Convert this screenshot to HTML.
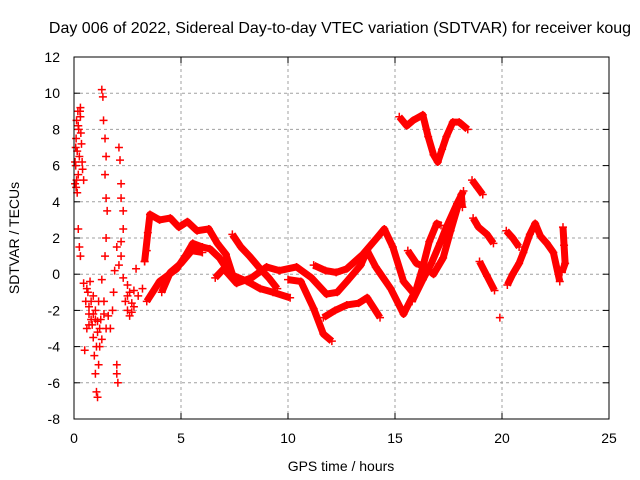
<!DOCTYPE html>
<html><head><meta charset="utf-8"><style>
body{margin:0;background:#fff}
svg{display:block;font-family:"Liberation Sans",sans-serif}
</style></head><body>
<svg id="chart" width="640" height="480" viewBox="0 0 640 480">
<rect width="640" height="480" fill="#fff"/>
<text x="340" y="33" font-size="16" text-anchor="middle">Day 006 of 2022, Sidereal Day-to-day VTEC variation (SDTVAR) for receiver koug</text>
<text transform="translate(19,238) rotate(-90)" font-size="14" text-anchor="middle">SDTVAR / TECUs</text>
<text x="341" y="471" font-size="14" text-anchor="middle">GPS time / hours</text>
<g id="grid"></g>
<g id="marks"></g>
<rect x="74" y="57" width="535" height="362" fill="none" stroke="#000" stroke-width="1"/>
</svg>
<script>
const xTicks=[0,5,10,15,20,25];
const yTicks=[-8,-6,-4,-2,0,2,4,6,8,10,12];
const earlyScatter=[[0.05,5],[0.08,7],[0.1,4.8],[0.12,8.5],[0.15,4.5],[0.18,9],[0.2,5.5],[0.22,8],[0.25,6.5],[0.28,9],[0.3,8.7],[0.32,7.8],[0.35,7.2],[0.38,6.2],[0.4,5.8],[0.45,5.2],[0.2,2.5],[0.25,1.5],[0.3,1],[0.08,6],[0.15,6.8],[0.1,7.5],[0.2,8.2],[0.3,9.2],[0.05,6.2],[0.12,5.2],[0.45,-0.5],[0.55,-1.5],[0.6,-3.0],[0.5,-4.2],[0.65,-1],[0.7,-2.2],[0.75,-0.4],[0.8,-1.5],[0.85,-2.8],[0.9,-3.5],[0.95,-4.5],[1.0,-5.5],[1.05,-6.5],[1.1,-6.8],[1.0,-2.5],[1.1,-3.2],[1.15,-1.5],[1.2,-4],[1.25,-2.5],[1.3,-0.3],[0.6,-0.8],[0.7,-1.8],[0.8,-2.5],[0.9,-1.2],[1.0,-2.0],[1.1,-2.6],[1.2,-3.0],[1.3,-3.6],[1.4,-2.2],[0.7,-2.8],[0.9,-2.2],[1.05,-4.0],[1.15,-5.0],[1.3,10.2],[1.35,9.8],[1.38,8.5],[1.45,7.5],[1.5,6.5],[1.45,5.5],[1.5,4.2],[1.55,3.5],[1.5,2],[1.45,1.0],[1.4,-1.5],[1.5,-3.0],[1.6,-2.3],[1.7,-3],[1.8,-2],[1.85,-1],[2.0,-5.5],[2.05,-6.0],[2.0,-5],[2.1,7],[2.15,6.3],[2.2,5],[2.2,4.2],[2.3,3.5],[2.3,2.5],[2.2,1.8],[2.2,1.0],[2.0,1.5],[2.1,0.5],[1.9,0.2],[2.3,-0.2],[2.4,-1.5],[2.5,-2.0],[2.6,-2.3],[2.7,-1.6],[2.8,-1.8],[3.0,-1.2],[3.2,-0.8],[2.5,-1.2],[2.9,0.3],[3.3,0.7],[3.4,1.3],[2.5,-0.6],[2.6,-1.0],[2.7,-2.1],[2.8,-0.9]];
const trackA=[[3.3,0.7],[3.45,2.3],[3.55,3.3],[4.0,3.0],[4.5,3.1],[4.9,2.6],[5.3,2.9],[5.75,2.4],[6.3,2.5],[6.7,1.7],[7.1,1.1],[7.4,0]];
const trackB=[[3.4,-1.5],[4.0,-0.4],[4.8,0.3],[5.2,1.0],[5.55,1.7],[6.0,1.5],[6.35,1.4],[6.8,0.9],[7.3,0],[8.1,-0.4],[8.7,-0.8],[9.3,-1.0],[10.1,-1.3]];
const trackC=[[4.1,-1],[4.5,0.1],[5.0,0.6],[5.5,1.3],[6.0,1.2]];
const trackD=[[7.4,2.2],[7.8,1.5],[8.2,1.0],[8.7,0.3],[9.1,-0.2],[9.5,-0.8]];
const trackE=[[6.6,-0.2],[7.0,0.3],[7.6,-0.5],[8.3,-0.2],[9.0,0.4],[9.6,0.2],[10.4,0.4],[11.1,-0.2],[11.8,-1.1],[12.3,-1.0],[12.75,-0.4],[13.4,0.5],[13.7,1.3],[14.1,0.4],[14.8,-0.8],[15.4,-2.2],[16.0,-0.8],[16.3,0.4],[16.6,1.8],[16.95,2.8],[17.15,2.7]];
const trackF=[[10.0,-0.3],[10.6,-0.4],[11.2,-1.9],[11.65,-3.3],[12.05,-3.7]];
const trackG=[[11.2,0.5],[11.75,0.2],[12.25,0.1],[12.75,0.3],[13.5,1.1],[14.15,2],[14.5,2.5],[14.9,1.5],[15.4,-0.4],[15.9,-1.1]];
const trackH=[[11.65,-2.4],[12.2,-2.0],[12.75,-1.7],[13.3,-1.6],[13.7,-1.3],[14.3,-2.4]];
const trackI=[[15.6,1.3],[16.0,0.6],[16.4,0.4],[16.8,0],[17.25,0.9],[17.6,2.4],[18.1,4.4],[18.15,3.7]];
const trackJ=[[15.8,-1.5],[16.3,-0.3],[16.7,0.6],[17.1,1.7],[17.4,2.6],[17.9,3.9],[18.2,4.6]];
const trackTop=[[15.2,8.7],[15.55,8.2],[15.85,8.5],[16.3,8.8],[16.55,7.6],[16.8,6.6],[17.0,6.2],[17.2,6.9],[17.4,7.6],[17.7,8.4],[18.0,8.4],[18.4,8.0]];
const trackK=[[18.6,5.2],[18.85,4.8],[19.1,4.4]];
const trackK2=[[18.65,3.1],[18.9,2.6],[19.3,2.2],[19.6,1.7]];
const trackK3=[[18.95,0.7],[19.3,-0.1],[19.65,-0.9]];
const loneK=[[19.9,-2.4]];
const trackL=[[20.2,2.4],[20.5,2.0],[20.8,1.5]];
const trackL2=[[20.25,-0.6],[20.5,0.0],[20.8,0.6],[21.0,1.2],[21.3,2.2],[21.55,2.8],[21.8,2.1],[22.1,1.7],[22.4,1.2],[22.7,-0.4]];
const trackL3=[[22.85,2.6],[22.9,1.6],[22.95,0.6],[22.8,0.1]];
const lineTracks=[trackA,trackB,trackC,trackD,trackE,trackF,trackG,trackH,trackI,trackJ,trackTop,trackK,trackK2,trackK3,trackL,trackL2,trackL3];
const scatterSets=[earlyScatter,loneK];

const NS="http://www.w3.org/2000/svg";
const X0=74,X1=609,Y0=419,Y1=57;
function xs(h){return X0+(h-0)/(25-0)*(X1-X0);}
function ys(v){return Y0-(v+8)/(12+8)*(Y0-Y1);}
const grid=document.getElementById('grid');
const svg=document.getElementById('chart');
function mk(tag,attrs,parent){const e=document.createElementNS(NS,tag);for(const k in attrs)e.setAttribute(k,attrs[k]);parent.appendChild(e);return e;}
xTicks.forEach(t=>{
 const x=xs(t);
 if(t>0&&t<25){const g=mk('line',{x1:x,x2:x,y1:Y1,y2:Y0,stroke:'#a0a0a0','stroke-dasharray':'3,3'},grid);
 
 }
 const tk=mk('line',{x1:x,x2:x,y1:Y0,y2:Y0-6,stroke:'#000'},grid);
 
 
 const tk2=mk('line',{x1:x,x2:x,y1:Y1,y2:Y1+6,stroke:'#000'},grid);
 
 
 const l=mk('text',{x:x,y:443,'font-size':14,'text-anchor':'middle'},svg);l.textContent=t;
 
 
});
yTicks.forEach(t=>{
 const y=ys(t);
 if(t>-8&&t<12){const g=mk('line',{x1:X0,x2:X1,y1:y,y2:y,stroke:'#a0a0a0','stroke-dasharray':'3,3'},grid);
 
 }
 const tk=mk('line',{x1:X0,x2:X0+6,y1:y,y2:y,stroke:'#000'},grid);
 
 
 const tk2=mk('line',{x1:X1,x2:X1-6,y1:y,y2:y,stroke:'#000'},grid);
 
 
 const l=mk('text',{x:60,y:y+5,'font-size':14,'text-anchor':'end'},svg);l.textContent=t;
 
 
});
const marks=document.getElementById('marks');
function plus(h,v){
 const x=xs(h),y=ys(v);
 const p=mk('path',{d:`M${x-4},${y}H${x+4}M${x},${y-4}V${y+4}`,stroke:'#f00','stroke-width':1.5,fill:'none'},marks);
 
 
}
lineTracks.forEach(tr=>{
 const pl=mk('polyline',{points:tr.map(p=>xs(p[0])+','+ys(p[1])).join(' '),stroke:'#f00','stroke-width':7,fill:'none','stroke-linejoin':'round'},marks);
 
 
 tr.forEach(p=>plus(p[0],p[1]));
});
scatterSets.forEach(s=>s.forEach(p=>plus(p[0],p[1])));
</script>
</body></html>
